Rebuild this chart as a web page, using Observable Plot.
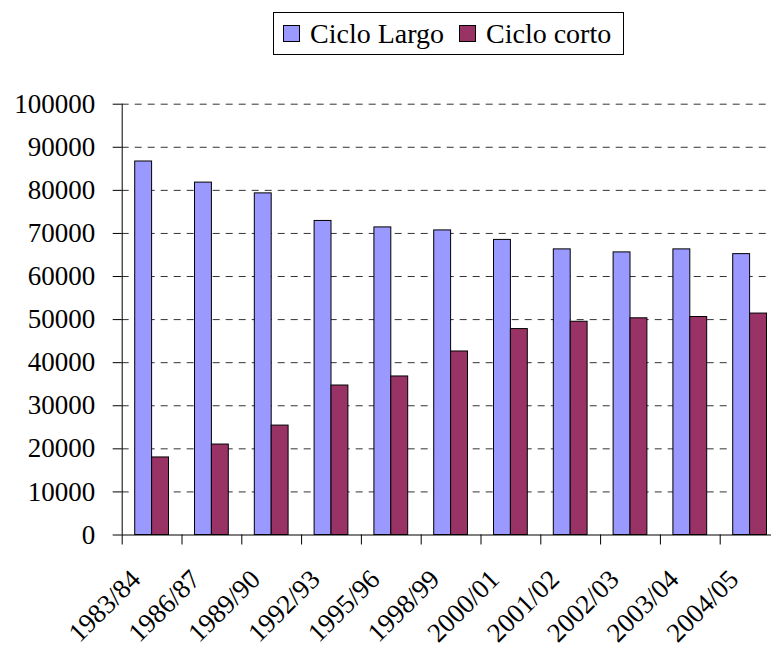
<!DOCTYPE html>
<html>
<head>
<meta charset="utf-8">
<script src="https://cdn.jsdelivr.net/npm/d3@7"></script>
<script src="https://cdn.jsdelivr.net/npm/@observablehq/plot@0.6"></script>
<style>
  html, body { margin: 0; padding: 0; background: #fff; }
  #wrap { position: relative; width: 771px; height: 653px; font-family: "Liberation Serif", "Times New Roman", serif; }
  #legend { position: absolute; left: 273px; top: 12px; width: 351px; height: 43px; border: 1px solid #000; box-sizing: border-box;
            display: flex; align-items: center; font-size: 28px; color: #000; background: #fff; }
  .sw { display: inline-block; width: 17px; height: 17px; border: 1px solid #000; box-sizing: border-box; margin-right: 10px; }
  .item { display: flex; align-items: center; }
</style>
</head>
<body>
<div id="wrap">
  <div id="chart"></div>
  <div id="legend"></div>
</div>
<script>
const years = ["1983/84","1986/87","1989/90","1992/93","1995/96","1998/99","2000/01","2001/02","2002/03","2003/04","2004/05"];
const cicloLargo = [86700, 81800, 79300, 72900, 71400, 70700, 68500, 66300, 65600, 66300, 65200];
const cicloCorto = [18000, 21000, 25400, 34700, 36800, 42600, 47800, 49500, 50300, 50600, 51400];
const seriesNames = ["Ciclo Largo", "Ciclo corto"];
const seriesColors = ["#9999FF", "#993366"];
const yTicks = [0, 10000, 20000, 30000, 40000, 50000, 60000, 70000, 80000, 90000, 100000];

const rowsLargo = years.map((y, i) => ({year: y, value: cicloLargo[i]}));
const rowsCorto = years.map((y, i) => ({year: y, value: cicloCorto[i]}));

const xRange = [121.7, 779.5];
const step = (xRange[1] - xRange[0]) / years.length;
const padInner = 0.435;
const bw = step * (1 - padInner);
const font = "Liberation Serif, Times New Roman, serif";

const chart = Plot.plot({
  width: 771,
  height: 653,
  marginLeft: 121.7,
  marginRight: 0,
  marginTop: 103.7,
  marginBottom: 118.5,
  style: {fontFamily: font, fontSize: "27px", color: "#000", background: "transparent"},
  x: {type: "band", domain: years, range: xRange, round: false, paddingInner: padInner, paddingOuter: padInner / 2, axis: null},
  y: {domain: [0, 100000], axis: null},
  marks: [
    Plot.ruleY(yTicks.filter(d => d > 0), {y: d => d, stroke: "#333", strokeWidth: 1, strokeDasharray: "7,6"}),
    Plot.barY(rowsLargo, {x: "year", y: "value", fill: seriesColors[0], stroke: "#000", strokeWidth: 1, insetRight: bw / 2}),
    Plot.barY(rowsCorto, {x: "year", y: "value", fill: seriesColors[1], stroke: "#000", strokeWidth: 1, insetLeft: bw / 2}),
    Plot.axisY({ticks: yTicks, label: null, tickSize: 9, tickPadding: 18, tickFormat: d => String(d), fontSize: 27, stroke: "#000"}),
    Plot.ruleX([years[0]], {x: d => d, dx: -step / 2, y1: 0, y2: 100000, stroke: "#000", strokeWidth: 1}),
    Plot.ruleY([0], {stroke: "#000", strokeWidth: 1}),
    Plot.axisX({ticks: years, label: null, tickSize: 10, tickFormat: () => "", dx: -step / 2, stroke: "#000"}),
    Plot.text(years, {x: d => d, frameAnchor: "bottom", rotate: -45, textAnchor: "end", lineAnchor: "bottom",
                      dx: -10, dy: 46, fontSize: 27, fill: "#000"})
  ]
});
document.getElementById("chart").appendChild(chart);

const legend = document.getElementById("legend");
seriesNames.forEach((name, i) => {
  const item = document.createElement("div");
  item.className = "item";
  item.style.marginLeft = i === 0 ? "9px" : "15px";
  const sw = document.createElement("span");
  sw.className = "sw";
  sw.style.background = seriesColors[i];
  item.appendChild(sw);
  item.appendChild(document.createTextNode(name));
  legend.appendChild(item);
});
</script>
</body>
</html>
